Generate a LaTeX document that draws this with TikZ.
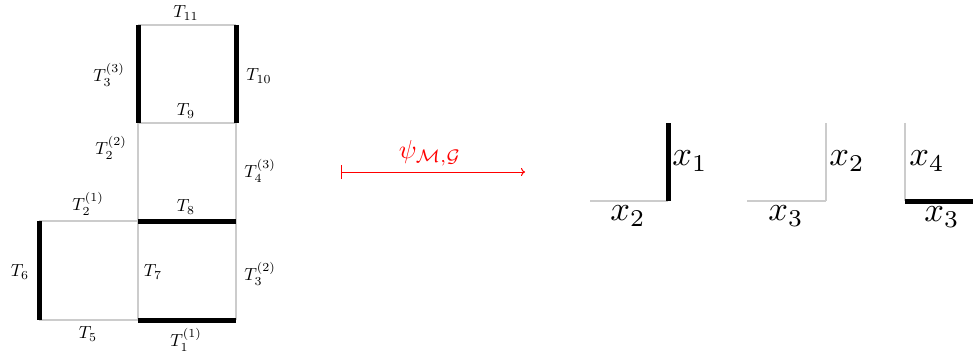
\documentclass[tikz,border=0pt]{standalone}
\usepackage{graphicx}
\usetikzlibrary{arrows.meta}
\newcommand{\tl}[1]{\scalebox{1.75}{$#1$}}
\newcommand{\xl}[1]{\scalebox{3.45}{$#1$}}
\begin{document}
\begin{tikzpicture}[x=1pt,y=-1pt,
  thinedge/.style={draw=black!20, line width=1.2pt},
  thickedge/.style={draw=black, line width=5pt},
  tlab/.style={inner sep=0pt},
  xlab/.style={inner sep=0pt}]
\useasboundingbox (0,0) rectangle (973,358);
% grid corners
\coordinate (a0) at (39,221);
\coordinate (a1) at (39,320);
\coordinate (b0) at (138,25);
\coordinate (b1) at (138,123);
\coordinate (b2) at (138,221);
\coordinate (b3) at (138,320);
\coordinate (c0) at (236,25);
\coordinate (c1) at (236,123);
\coordinate (c2) at (236,221);
\coordinate (c3) at (236,320);
% thin edges
\draw[thinedge] (b0) -- (c0);
\draw[thinedge] (b1) -- (c1);
\draw[thinedge] (b1) -- (b2);
\draw[thinedge] (c1) -- (c2);
\draw[thinedge] (a0) -- (b2);
\draw[thinedge] (a1) -- (b3);
\draw[thinedge] (b2) -- (b3);
\draw[thinedge] (c2) -- (c3);
% thick edges
\draw[thickedge] (b0) -- (b1);
\draw[thickedge] (c0) -- (c1);
\draw[thickedge] (b2) -- (c2);
\draw[thickedge] (b3) -- (c3);
\draw[thickedge] (a0) -- (a1);
% labels
\node[tlab] (t11) at (186,13) {\tl{T_{11}}};
\node[tlab] (t33) at (109,75) {\tl{T_3^{(3)}}};
\node[tlab] (t10) at (259,76) {\tl{T_{10}}};
\node[tlab] (t9) at (186,111) {\tl{T_9}};
\node[tlab] (t22) at (111,148) {\tl{T_2^{(2)}}};
\node[tlab] (t43) at (260,171) {\tl{T_4^{(3)}}};
\node[tlab] (t21) at (88,204) {\tl{T_2^{(1)}}};
\node[tlab] (t8) at (186,207) {\tl{T_8}};
\node[tlab] (t6) at (20,272) {\tl{T_6}};
\node[tlab] (t7) at (153,272) {\tl{T_7}};
\node[tlab] (t32) at (260,274) {\tl{T_3^{(2)}}};
\node[tlab] (t5) at (88,334) {\tl{T_5}};
\node[tlab] (t11b) at (186,340) {\tl{T_1^{(1)}}};
% mapping arrow
\coordinate (m0) at (341,172);
\coordinate (m1) at (525,172);
\draw[red, line width=1pt, {Bar[width=14pt]}-{To[length=4pt,width=8pt]}] (m0) -- (m1);
\node[red, inner sep=0pt] (psi) at (430,153) {\scalebox{2.6}{$\psi_{\mathcal{M},\mathcal{G}}$}};
% right pieces
\coordinate (p0) at (590,201);
\coordinate (p1) at (668,201);
\coordinate (p2) at (668,123);
\draw[thinedge] (p0) -- (p1);
\draw[thickedge] (p1) -- (p2);
\node[xlab] (px1) at (690,161) {\xl{x_1}};
\node[xlab] (px2) at (628,216) {\xl{x_2}};
\coordinate (q0) at (747,201);
\coordinate (q1) at (826,201);
\coordinate (q2) at (826,123);
\draw[thinedge] (q0) -- (q1);
\draw[thinedge] (q1) -- (q2);
\node[xlab] (qx2) at (847,161) {\xl{x_2}};
\node[xlab] (qx3) at (786,216) {\xl{x_3}};
\coordinate (r0) at (905,123);
\coordinate (r1) at (905,201);
\coordinate (r2) at (973,201);
\draw[thinedge] (r0) -- (r1);
\draw[thickedge] (r1) -- (r2);
\node[xlab] (rx4) at (927,161) {\xl{x_4}};
\node[xlab] (rx3) at (942,217) {\xl{x_3}};
\end{tikzpicture}
\end{document}
